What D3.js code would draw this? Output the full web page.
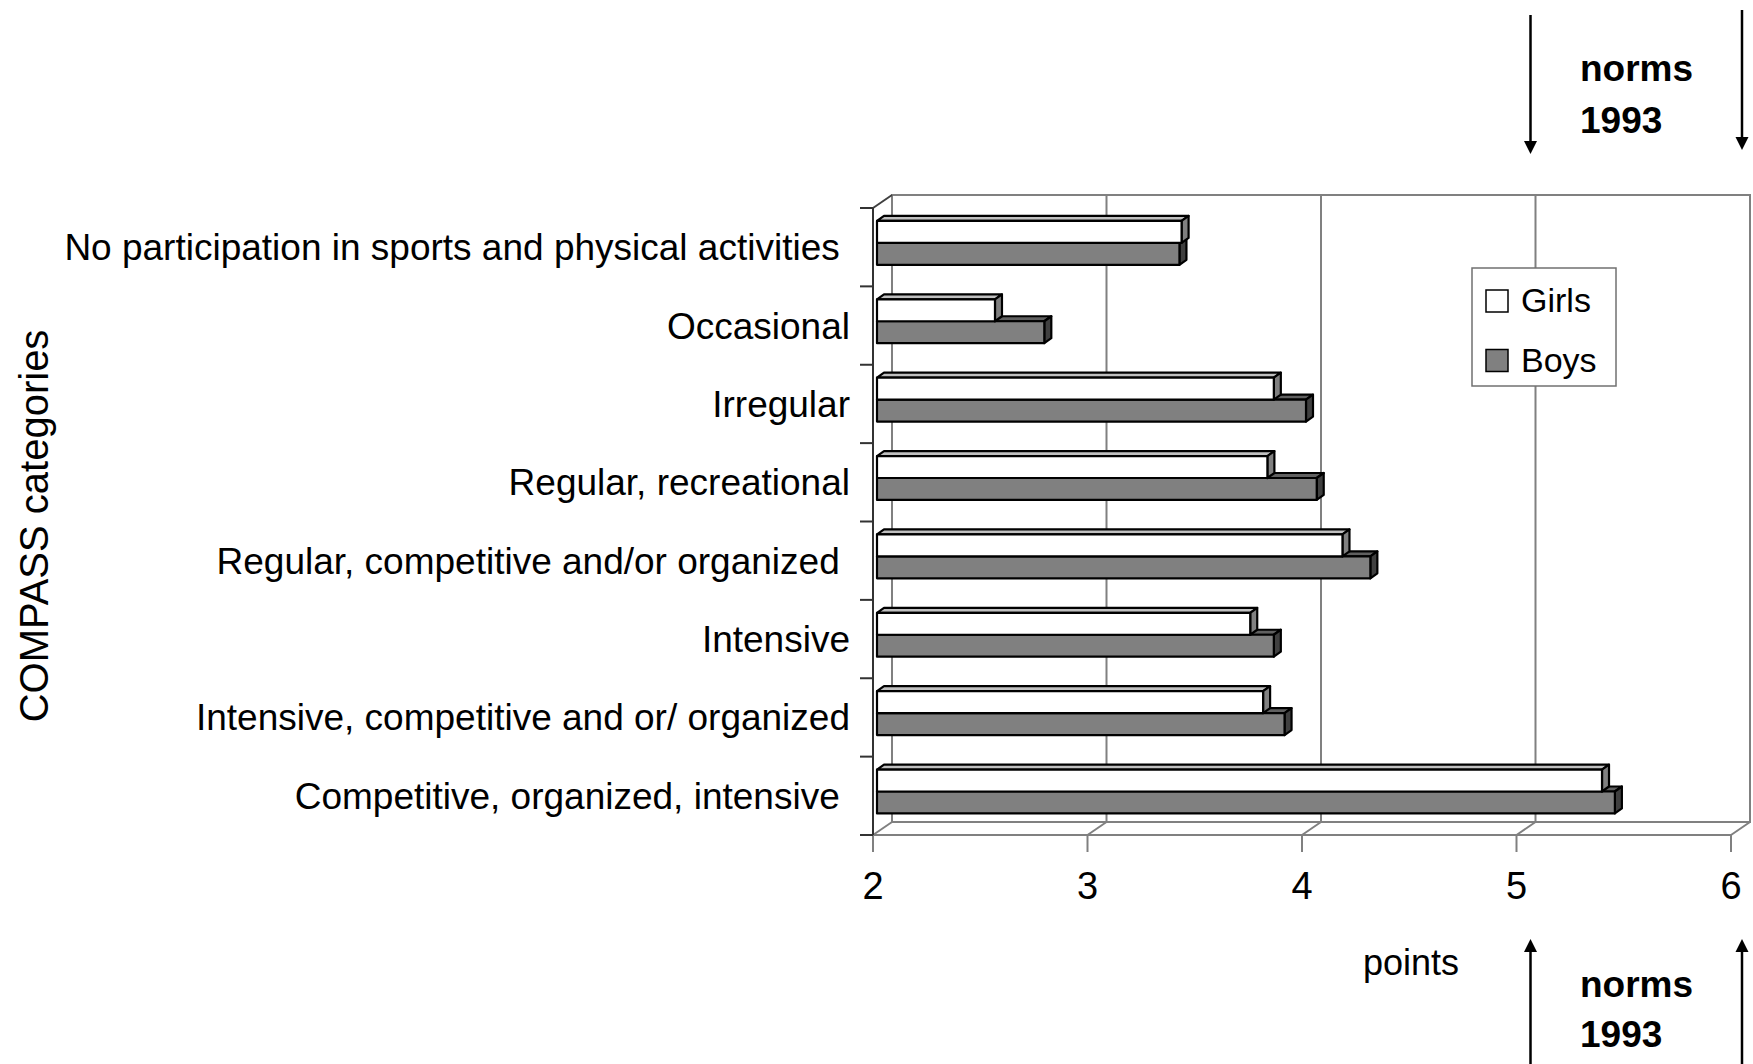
<!DOCTYPE html>
<html>
<head>
<meta charset="utf-8">
<script src="https://cdn.jsdelivr.net/npm/d3@7"></script>
<style>
  html, body { margin: 0; padding: 0; background: #fff; }
  svg { display: block; font-family: "Liberation Sans", Arial, sans-serif; }
  text { white-space: pre; }
</style>
</head>
<body>
<svg id="chart" width="1753" height="1064"></svg>
<script>
// ---- data ----
const categories = [
  "No participation in sports and physical activities ",
  "Occasional",
  "Irregular",
  "Regular, recreational",
  "Regular, competitive and/or organized ",
  "Intensive",
  "Intensive, competitive and or/ organized",
  "Competitive, organized, intensive "
];
const girls = [3.42, 2.55, 3.85, 3.82, 4.17, 3.74, 3.80, 5.38];
const boys  = [3.41, 2.78, 4.00, 4.05, 4.30, 3.85, 3.90, 5.44];
const seriesNames = ["Girls", "Boys"];
const xTicks = [2, 3, 4, 5, 6];
const yTitle = "COMPASS categories";
const xTitle = "points";
const normsLines = ["norms", "1993"];

// ---- layout ----
const svg = d3.select("#chart");
const frontLeft = 873, frontRight = 1731, frontTop = 208, frontBottom = 835;
const depth = {dx: 19, dy: -13};      // wall depth
const barShift = {dx: 4, dy: 0};      // bar front plane offset from front axis
const barDepth = {dx: 7, dy: -5};     // bar 3D thickness

const x = d3.scaleLinear().domain([2, 6]).range([frontLeft, frontRight]);
const y = d3.scaleBand().domain(categories).range([frontTop, frontBottom]);
const bw = y.bandwidth();

const grid = "#808080";

// back wall
const gWalls = svg.append("g");
gWalls.append("rect")
  .attr("x", x(2) + depth.dx).attr("y", frontTop + depth.dy)
  .attr("width", x(6) - x(2)).attr("height", frontBottom - frontTop)
  .attr("fill", "#fff").attr("stroke", grid).attr("stroke-width", 2);
gWalls.selectAll("line.grid").data(xTicks.slice(1, -1)).join("line")
  .attr("x1", d => x(d) + depth.dx).attr("x2", d => x(d) + depth.dx)
  .attr("y1", frontTop + depth.dy).attr("y2", frontBottom + depth.dy)
  .attr("stroke", grid).attr("stroke-width", 2);
gWalls.selectAll("line.floor").data(xTicks).join("line")
  .attr("x1", d => x(d)).attr("y1", frontBottom)
  .attr("x2", d => x(d) + depth.dx).attr("y2", frontBottom + depth.dy)
  .attr("stroke", grid).attr("stroke-width", 2);
gWalls.append("line")
  .attr("x1", x(2)).attr("x2", x(6)).attr("y1", frontBottom).attr("y2", frontBottom)
  .attr("stroke", grid).attr("stroke-width", 2);
gWalls.append("line")
  .attr("x1", x(2)).attr("y1", frontTop)
  .attr("x2", x(2) + depth.dx).attr("y2", frontTop + depth.dy)
  .attr("stroke", "#404040").attr("stroke-width", 2);

// x ticks and labels
const gx = svg.append("g");
gx.selectAll("line").data(xTicks).join("line")
  .attr("x1", d => x(d)).attr("x2", d => x(d))
  .attr("y1", frontBottom).attr("y2", frontBottom + 17)
  .attr("stroke", grid).attr("stroke-width", 2);
gx.selectAll("text").data(xTicks).join("text")
  .attr("x", d => x(d)).attr("y", 899)
  .attr("text-anchor", "middle").attr("font-size", 38).attr("fill", "#000")
  .text(d => d);

// left axis
const gy = svg.append("g");
gy.append("line")
  .attr("x1", frontLeft).attr("x2", frontLeft).attr("y1", frontTop).attr("y2", frontBottom)
  .attr("stroke", "#333").attr("stroke-width", 2);
const boundaries = categories.map(c => y(c)).concat([frontBottom]);
gy.selectAll("line.tick").data(boundaries).join("line")
  .attr("x1", frontLeft - 13).attr("x2", frontLeft)
  .attr("y1", d => d).attr("y2", d => d)
  .attr("stroke", "#333").attr("stroke-width", 2);
gy.selectAll("text").data(categories).join("text")
  .attr("x", 850).attr("y", d => y(d) + bw / 2 + 13)
  .attr("text-anchor", "end").attr("font-size", 37).attr("fill", "#000")
  .text(d => d);

// bars
function bar(g, v, yTop, h, fills) {
  const x0 = x(2) + barShift.dx, x1 = x(v) + barShift.dx;
  const dx = barDepth.dx, dy = barDepth.dy;
  const st = {stroke: "#000", "stroke-width": 2.2, "stroke-linejoin": "round"};
  const add = (pts, fill) => {
    const p = g.append("polygon").attr("points", pts.map(q => q.join(",")).join(" ")).attr("fill", fill);
    Object.entries(st).forEach(([k, val]) => p.attr(k, val));
  };
  add([[x0, yTop], [x0 + dx, yTop + dy], [x1 + dx, yTop + dy], [x1, yTop]], fills.top);
  add([[x1, yTop], [x1 + dx, yTop + dy], [x1 + dx, yTop + h + dy], [x1, yTop + h]], fills.side);
  add([[x0, yTop], [x1, yTop], [x1, yTop + h], [x0, yTop + h]], fills.front);
}
const gBars = svg.append("g");
const girlFill = {front: "#ffffff", top: "#c0c0c0", side: "#808080"};
const boyFill = {front: "#808080", top: "#606060", side: "#404040"};
categories.forEach((c, i) => {
  const gTop = y(c) + bw * 0.165;
  const h = bw * 0.28;
  const g = gBars.append("g");
  bar(g, boys[i], gTop + h, h, boyFill);
  bar(g, girls[i], gTop, h, girlFill);
});

// legend
const lg = svg.append("g");
lg.append("rect").attr("x", 1472).attr("y", 268).attr("width", 144).attr("height", 118)
  .attr("fill", "#fff").attr("stroke", "#707070").attr("stroke-width", 1.5);
const legFills = [girlFill.front, boyFill.front];
seriesNames.forEach((s, i) => {
  lg.append("rect").attr("x", 1486).attr("y", 290 + i * 59.5).attr("width", 22).attr("height", 22)
    .attr("fill", legFills[i]).attr("stroke", "#000").attr("stroke-width", 1.5);
  lg.append("text").attr("x", 1521).attr("y", 312 + i * 59.5)
    .attr("font-size", 34).attr("fill", "#000").text(s);
});

// axis titles
svg.append("text")
  .attr("transform", "translate(48,526) rotate(-90)")
  .attr("text-anchor", "middle").attr("font-size", 40).attr("fill", "#000")
  .text(yTitle);
svg.append("text").attr("x", 1363).attr("y", 975)
  .attr("font-size", 36).attr("fill", "#000").text(xTitle);

// norms annotations
function arrow(xp, yTail, yTip) {
  const dir = yTip > yTail ? 1 : -1;
  svg.append("line").attr("x1", xp).attr("x2", xp).attr("y1", yTail).attr("y2", yTip - dir * 10)
    .attr("stroke", "#000").attr("stroke-width", 2.5);
  svg.append("polygon")
    .attr("points", `${xp - 6.5},${yTip - dir * 13} ${xp + 6.5},${yTip - dir * 13} ${xp},${yTip}`)
    .attr("fill", "#000");
}
const arrowL = x(5) + 14, arrowR = x(6) + 11;
arrow(arrowL, 15, 154);
arrow(arrowR, 10, 150);
arrow(arrowL, 1064, 939);
arrow(arrowR, 1064, 939);
[[81, 133], [997, 1047]].forEach(bl => {
  normsLines.forEach((t, i) => {
    svg.append("text").attr("x", 1580).attr("y", bl[i])
      .attr("font-size", 37).attr("font-weight", "bold").attr("fill", "#000").text(t);
  });
});
</script>
</body>
</html>
